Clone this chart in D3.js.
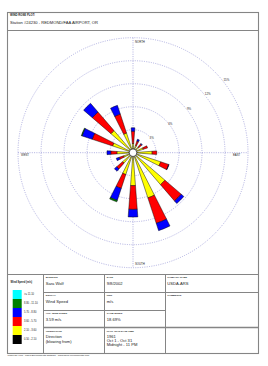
<!DOCTYPE html>
<html>
<head>
<meta charset="utf-8">
<script src="https://cdn.jsdelivr.net/npm/d3@7"></script>
<style>
    body { margin: 0; background: #fff; }
    text { font-family: "Liberation Sans", Arial, sans-serif; fill: #222; }
</style>
</head>
<body>
<div id="rose"></div>
<script>
// directions the wind blows from, clockwise from north
const DIRECTIONS = ['N','NNE','NE','ENE','E','ESE','SE','SSE','S','SSW','SW','WSW','W','WNW','NW','NNW'];

// frequency (%) per speed class, one value per direction
const CLASS_050_210 = [0.2,0.2,0.2,0.2,0.2,0.3,0.3,0.3,0.3,0.3,0.2,0.2,0.2,0.3,0.3,0.3];
const CLASS_210_360 = [1.0,0.8,0.8,1.2,2.3,3.5,5.2,5.9,4.0,2.7,1.6,1.1,1.9,2.5,3.5,2.4];
const CLASS_360_570 = [1.6,0.6,0.5,0.6,0.6,1.1,2.8,3.5,3.1,1.9,1.0,0.6,0.8,2.8,3.2,2.6];
const CLASS_570_880 = [0.45,0.25,0.1,0,0,0.05,0.45,1.0,1.0,1.65,0.4,0.4,0.5,1.4,1.5,1.2];
const CLASS_880_1110 = [0,0,0,0,0,0,0,0,0,0.2,0,0,0,0.1,0,0];
const CLASS_1110_UP = [0,0,0,0,0,0,0,0,0,0,0,0,0,0,0,0];

const SPEED_CLASSES = ['>= 11.10', '8.80 - 11.10', '5.70 - 8.80', '3.60 - 5.70', '2.10 - 3.60', '0.50 - 2.10'];
const CLASS_COLORS = ['#00ffff', '#008000', '#0000ff', '#ff0000', '#ffff00', '#000000'];

const RING_VALUES = [3, 6, 9, 12, 15];
const RING_LABELS = ['3%', '6%', '9%', '12%', '15%'];

class WindRose {

    constructor(parentElement) {
        this.parentElement = parentElement;
        this.initVis();
    }

    initVis() {
        let vis = this;
        vis.width = 268;
        vis.height = 366;
        vis.cx = 133;
        vis.cy = 152.7;
        vis.maxR = 115;

        vis.svg = d3.select('#' + vis.parentElement).append('svg')
            .attr('width', vis.width)
            .attr('height', vis.height);

        vis.r = d3.scaleLinear()
            .domain([0, d3.max(RING_VALUES)])
            .range([0, vis.maxR]);

        // band start = bearing of each direction
        vis.angle = d3.scaleBand()
            .domain(DIRECTIONS)
            .range([0, 2 * Math.PI]);

        vis.drawFrame();
        vis.drawGrid();
        vis.wrangleData();
    }

    drawFrame() {
        let vis = this;
        const line = '#858585';
        let g = vis.svg.append('g');

        g.append('rect')
            .attr('x', 7.5).attr('y', 12.5)
            .attr('width', 251).attr('height', 341)
            .attr('fill', 'none').attr('stroke', line).attr('stroke-width', 1.1);

        // header
        g.append('line').attr('x1', 7.5).attr('x2', 258.5).attr('y1', 30.5).attr('y2', 30.5).attr('stroke', line).attr('stroke-width', 1.1);
        g.append('text').attr('x', 10).attr('y', 16.3).attr('font-size', 2.8).attr('font-weight', 'bold')
            .text('WIND ROSE PLOT:');
        g.append('text').attr('x', 10).attr('y', 24).attr('font-size', 4.1)
            .text('Station #24230 - REDMOND/FAA AIRPORT, OR');

        // info table
        g.append('line').attr('x1', 7.5).attr('x2', 258.5).attr('y1', 274.5).attr('y2', 274.5).attr('stroke', line).attr('stroke-width', 1.1);
        [43.5, 104.5, 165.5].forEach(x => {
            g.append('line').attr('x1', x).attr('x2', x).attr('y1', 274.5).attr('y2', 353.5).attr('stroke', line);
        });
        g.append('line').attr('x1', 43.5).attr('x2', 258.5).attr('y1', 292.5).attr('y2', 292.5).attr('stroke', line);
        g.append('line').attr('x1', 43.5).attr('x2', 165.5).attr('y1', 310.5).attr('y2', 310.5).attr('stroke', line);
        g.append('line').attr('x1', 43.5).attr('x2', 258.5).attr('y1', 327.5).attr('y2', 327.5).attr('stroke', line).attr('stroke-width', 1.3);

        const cells = [
            { x: 45.7, y: 274.5, label: 'MODELER', lines: ['Sara Wolf'] },
            { x: 106.7, y: 274.5, label: 'DATE', lines: ['9/8/2002'] },
            { x: 167.3, y: 274.5, label: 'COMPANY NAME', lines: ['USDA-ARS'] },
            { x: 45.7, y: 292.5, label: 'DISPLAY', lines: ['Wind Speed'] },
            { x: 106.7, y: 292.5, label: 'UNIT', lines: ['m/s'] },
            { x: 167.3, y: 292.5, label: 'COMMENTS', lines: [] },
            { x: 45.7, y: 310.5, label: 'AVG. WIND SPEED', lines: ['3.59 m/s'] },
            { x: 106.7, y: 310.5, label: 'CALM WINDS', lines: ['18.69%'] },
            { x: 45.7, y: 327.8, label: 'ORIENTATION', lines: ['Direction', '(blowing from)'] },
            { x: 106.7, y: 327.8, label: 'PLOT YEAR-DATE-TIME', lines: ['1961', 'Oct 1 - Oct 31', 'Midnight - 11 PM'] }
        ];
        cells.forEach(c => {
            g.append('text').attr('x', c.x).attr('y', c.y + 3.7)
                .attr('font-size', 2.4).attr('font-weight', 'bold').text(c.label);
            let step = c.lines.length > 2 ? 3.7 : 5;
            c.lines.forEach((t, i) => {
                g.append('text').attr('x', c.x).attr('y', c.y + 10.4 + i * step)
                    .attr('font-size', 4.1).text(t);
            });
        });

        // legend
        g.append('text').attr('x', 10.5).attr('y', 283.3).attr('font-size', 2.6).attr('font-weight', 'bold')
            .text('Wind Speed (m/s)');
        let boxY = d3.scaleBand().domain(SPEED_CLASSES).range([290, 344]);
        let legend = g.selectAll('.legend-item').data(SPEED_CLASSES).enter().append('g')
            .attr('class', 'legend-item');
        legend.append('rect')
            .attr('x', 12.7).attr('y', d => boxY(d))
            .attr('width', 9).attr('height', boxY.bandwidth())
            .attr('fill', (d, i) => CLASS_COLORS[i]);
        legend.append('text')
            .attr('x', 24).attr('y', d => boxY(d) + boxY.bandwidth() / 2 + 0.9)
            .attr('font-size', 2.6).text(d => d);

        g.append('text').attr('x', 7.5).attr('y', 356.2).attr('font-size', 2.3)
            .text('WRPLOT View - Lakes Environmental Software - www.lakes-environmental.com');
    }

    drawGrid() {
        let vis = this;
        const gridColor = '#9c9cd8';
        let g = vis.svg.append('g').attr('transform', `translate(${vis.cx},${vis.cy})`);

        g.selectAll('.ring').data(RING_VALUES).enter().append('circle')
            .attr('class', 'ring')
            .attr('r', d => vis.r(d))
            .attr('fill', 'none')
            .attr('stroke', gridColor)
            .attr('stroke-width', 0.8)
            .attr('stroke-dasharray', '1,1.3');

        g.append('line').attr('x1', 0).attr('x2', 0).attr('y1', -vis.maxR).attr('y2', vis.maxR)
            .attr('stroke', gridColor).attr('stroke-width', 0.8).attr('stroke-dasharray', '1,1.3');
        g.append('line').attr('y1', 0).attr('y2', 0).attr('x1', -vis.maxR).attr('x2', vis.maxR)
            .attr('stroke', gridColor).attr('stroke-width', 0.8).attr('stroke-dasharray', '1,1.3');

        // ring labels along the NE diagonal
        let a = 38 * Math.PI / 180;
        let labels = g.selectAll('.ring-label').data(RING_VALUES).enter().append('g')
            .attr('class', 'ring-label')
            .attr('transform', d => `translate(${vis.r(d) * 1.03 * Math.cos(a)},${-vis.r(d) * 1.03 * Math.sin(a)})`);
        labels.append('rect')
            .attr('x', (d, i) => -RING_LABELS[i].length * 1.0).attr('y', -1.6)
            .attr('width', (d, i) => RING_LABELS[i].length * 2.0).attr('height', 3.2)
            .attr('fill', '#fff');
        labels.append('text')
            .attr('text-anchor', 'middle').attr('y', 1).attr('font-size', 2.9)
            .text((d, i) => RING_LABELS[i]);

        // compass labels
        g.append('text').attr('x', 2).attr('y', -vis.maxR + 5).attr('font-size', 2.8).text('NORTH');
        g.append('text').attr('x', 2).attr('y', vis.maxR - 2.5).attr('font-size', 2.8).text('SOUTH');
        g.append('text').attr('x', -vis.maxR + 3).attr('y', 3.6).attr('font-size', 2.8).text('WEST');
        g.append('text').attr('x', vis.maxR - 15).attr('y', 3.6).attr('font-size', 2.8).text('EAST');

        vis.roseGroup = g.append('g').attr('class', 'rose');
    }

    wrangleData() {
        let vis = this;
        // inner class first, outward
        const series = [CLASS_050_210, CLASS_210_360, CLASS_360_570, CLASS_570_880, CLASS_880_1110, CLASS_1110_UP];
        const keys = ['c0', 'c1', 'c2', 'c3', 'c4', 'c5'];
        vis.displayData = DIRECTIONS.map((dir, i) => {
            let row = { dir: dir };
            keys.forEach((k, j) => { row[k] = series[j][i]; });
            return row;
        });
        vis.stacked = d3.stack().keys(keys)(vis.displayData);
        vis.updateVis();
    }

    updateVis() {
        let vis = this;
        // legend order is top = fastest, stacking order is slowest first
        const colors = CLASS_COLORS.slice().reverse();
        const half = 4.3 * Math.PI / 180;

        let arc = d3.arc()
            .innerRadius(d => vis.r(d[0]))
            .outerRadius(d => vis.r(d[1]))
            .startAngle(d => vis.angle(d.data.dir) - half)
            .endAngle(d => vis.angle(d.data.dir) + half);

        let groups = vis.roseGroup.selectAll('.layer').data(vis.stacked).enter().append('g')
            .attr('class', 'layer')
            .attr('fill', (d, i) => colors[i]);

        groups.selectAll('path').data(d => d.filter(s => s[1] - s[0] > 0)).enter().append('path')
            .attr('d', arc)
            .attr('stroke', '#000')
            .attr('stroke-width', 0.45)
            .attr('stroke-linejoin', 'round');

        // calm circle
        vis.roseGroup.append('circle')
            .attr('r', 3.8)
            .attr('fill', '#fff')
            .attr('stroke', '#000')
            .attr('stroke-width', 0.6);
    }
}

new WindRose('rose');
</script>
</body>
</html>
